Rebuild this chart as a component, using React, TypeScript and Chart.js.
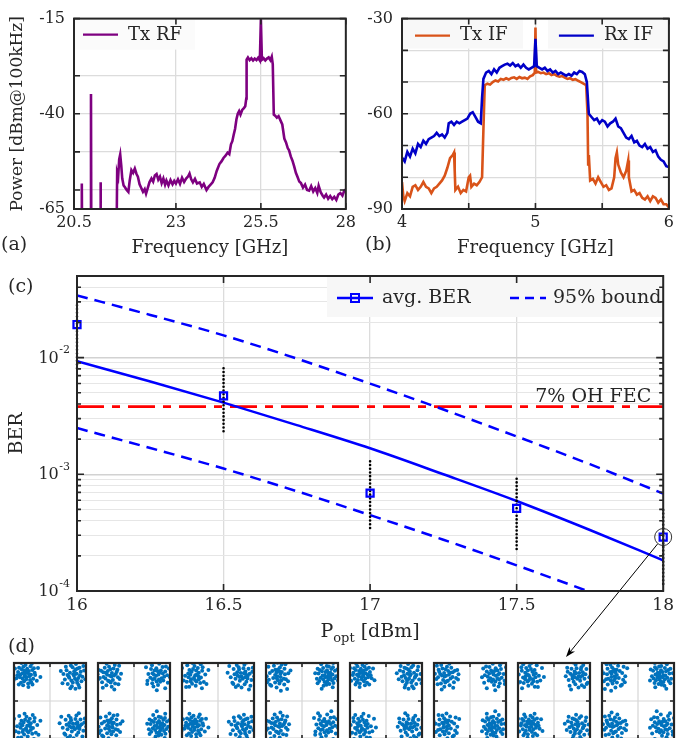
import React, { useEffect, useRef } from "react";
import { Chart, registerables } from "chart.js";
Chart.register(...registerables);

const SERIF = '"DejaVu Serif", "Liberation Serif", serif';
const INK = "#262626";
const GRID = "#dcdcdc";
const PURPLE = "#7E0080";
const ORANGE = "#D95319";
const DARKBLUE = "#0000C8";
const BLUE = "#0000FF";
const RED = "#FF0000";
const DOTBLUE = "#0072BD";

Chart.defaults.font.family = SERIF;
Chart.defaults.color = INK;

// ---------------- (a) Tx RF spectrum ----------------
const rfFreq = [
  20.0, 20.22, 20.23, 20.24, 20.49, 20.5, 20.51, 20.77, 20.78, 20.79, 21.25, 21.27, 21.3, 21.33, 21.36, 21.39, 21.42,
  21.46, 21.5, 21.55, 21.6, 21.64, 21.69, 21.74, 21.79, 21.84, 21.88, 21.93, 21.98, 22.03, 22.08, 22.12, 22.17, 22.22,
  22.28, 22.33, 22.38, 22.43, 22.48, 22.53, 22.58, 22.63, 22.68, 22.72, 22.78, 22.84, 22.9, 22.95, 23.0, 23.06, 23.12,
  23.18, 23.24, 23.3, 23.36, 23.4, 23.45, 23.5, 23.56, 23.62, 23.7, 23.76, 23.82, 23.9, 23.96, 24.02, 24.08, 24.14,
  24.2, 24.28, 24.34, 24.4, 24.46, 24.52, 24.57, 24.62, 24.66, 24.7, 24.74, 24.78, 24.82, 24.86, 24.9, 24.95, 25.0,
  25.04, 25.07, 25.08, 25.12, 25.17, 25.22, 25.27, 25.32, 25.37, 25.42, 25.47, 25.5, 25.53, 25.58, 25.63, 25.68,
  25.73, 25.78, 25.82, 25.85, 25.88, 25.92, 25.97, 26.02, 26.08, 26.13, 26.19, 26.24, 26.29, 26.33, 26.38, 26.43,
  26.48, 26.53, 26.58, 26.63, 26.68, 26.74, 26.8, 26.86, 26.92, 26.98, 27.04, 27.1, 27.16, 27.2, 27.26, 27.32, 27.36,
  27.42, 27.48, 27.54, 27.6, 27.66, 27.72, 27.78, 27.84, 27.9, 27.95, 28.0,
];
const rfPower = [
  -75, -75, -58.3, -75, -75, -34.8, -75, -75, -58.0, -75, -75, -55.5, -56.5, -52.0, -50.7, -53.5, -57.0,
  -58.8, -59.3, -60.0, -60.5, -57.5, -54.8, -55.5, -54.4, -55.8, -56.5, -58.5, -59.5, -60.5, -59.8, -61.0, -59.5, -58.0,
  -57.0, -57.8, -56.2, -55.8, -57.3, -56.5, -58.2, -57.0, -58.6, -57.5, -58.8, -57.4, -58.5, -57.6, -58.3, -57.2, -58.4,
  -56.8, -57.9, -57.0, -56.4, -55.7, -57.2, -58.0, -57.1, -58.3, -58.0, -59.2, -58.4, -60.0, -59.2, -58.6, -58.0, -56.8,
  -55.0, -53.2, -52.5, -51.6, -51.0, -50.2, -50.6, -48.0, -47.2, -45.5, -44.0, -41.5, -40.0, -39.3, -40.2, -39.0, -38.5,
  -38.0, -36.0, -25.8, -25.2, -25.9, -25.4, -26.0, -25.5, -25.9, -25.3, -26.0, -15.2, -25.8, -25.4, -26.0, -25.5,
  -25.2, -25.9, -25.0, -27.0, -40.2, -40.5, -41.0, -40.6, -41.8, -42.8, -46.5, -47.5, -49.0, -49.6, -51.2, -52.3,
  -53.8, -55.5, -56.6, -57.8, -58.2, -59.4, -58.6, -60.0, -60.2, -59.0, -60.4, -59.5, -60.8, -58.9, -60.6, -61.5, -62.0,
  -61.2, -62.3, -61.6, -62.4, -61.8, -62.6, -61.2, -60.8, -61.5, -60.3, -59.9,
];
const aXTicks = [20, 23, 25.5, 28];
const aXLabels = ["20.5", "23", "25.5", "28"];
const aYTicks = [-65, -60, -50, -40, -30, -15];
const aYLabels = ["-65", "", "", "-40", "", "-15"];

// ---------------- (b) IF spectra ----------------
const rxIfFreq = [
  4.0, 4.02, 4.04, 4.06, 4.08, 4.1, 4.12, 4.14, 4.16, 4.18, 4.2, 4.22, 4.24, 4.26, 4.28, 4.3, 4.32, 4.34, 4.35, 4.37,
  4.39, 4.41, 4.43, 4.45, 4.47, 4.49, 4.51, 4.53, 4.55, 4.57, 4.59, 4.6, 4.61, 4.63, 4.65, 4.67, 4.69, 4.71, 4.73, 4.75,
  4.77, 4.79, 4.81, 4.83, 4.85, 4.87, 4.89, 4.91, 4.93, 4.95, 4.97, 4.99, 5.0, 5.01, 5.03, 5.05, 5.07, 5.09, 5.11, 5.13,
  5.15, 5.17, 5.19, 5.21, 5.23, 5.25, 5.27, 5.29, 5.31, 5.33, 5.35, 5.37, 5.385, 5.4, 5.42, 5.44, 5.46, 5.48, 5.5, 5.52,
  5.54, 5.56, 5.58, 5.6, 5.62, 5.64, 5.66, 5.68, 5.7, 5.72, 5.74, 5.76, 5.78, 5.8, 5.82, 5.84, 5.86, 5.88, 5.9, 5.92,
  5.94, 5.96, 5.98, 6.0,
];
const rxIfPower = [
  -73.8, -75, -72, -73.5, -71, -72.5, -69.5, -70.5, -68.5, -69.5, -68, -67.5, -67, -66, -67, -66.5, -67.5, -66, -63, -62.5,
  -63.5, -62.5, -63, -62.5, -62, -61.5, -60, -59.5, -61, -62.5, -63, -55, -49, -47, -46.5, -47.5, -46, -47, -45.5, -45,
  -44.5, -44.2, -44.8, -44, -45, -44.5, -45.5, -44.5, -45.5, -46, -45.5, -45, -36.4, -45, -45.5, -46, -45.5, -46.5, -46, -47,
  -46.5, -47.5, -47, -47.5, -48, -47.5, -48, -47, -47.5, -46.5, -46.8, -47.5, -50, -60, -61, -62, -61.5, -63, -62, -62.5,
  -64, -63, -62.5, -61.5, -64, -64.5, -66, -67.5, -68, -67, -69, -68.5, -70, -70.5, -69.5, -71, -70.5, -72, -71.5, -73.5,
  -74.5, -75, -76.5, -76.8,
];
const txIfFreq = [
  4.0, 4.01, 4.02, 4.04, 4.06, 4.08, 4.1, 4.12, 4.14, 4.16, 4.18, 4.2, 4.22, 4.24, 4.26, 4.28, 4.3, 4.32, 4.34, 4.36,
  4.38, 4.39, 4.395, 4.4, 4.42, 4.44, 4.46, 4.48, 4.5, 4.51, 4.52, 4.54, 4.56, 4.58, 4.6, 4.61, 4.62, 4.64, 4.66, 4.68,
  4.7, 4.72, 4.74, 4.76, 4.78, 4.8, 4.82, 4.84, 4.86, 4.88, 4.9, 4.92, 4.94, 4.96, 4.98, 4.995, 5.0, 5.005, 5.02, 5.04,
  5.06, 5.08, 5.1, 5.12, 5.14, 5.16, 5.18, 5.2, 5.22, 5.24, 5.26, 5.28, 5.3, 5.32, 5.34, 5.36, 5.38, 5.39, 5.395, 5.4,
  5.41, 5.43, 5.45, 5.47, 5.49, 5.51, 5.53, 5.55, 5.57, 5.59, 5.6, 5.61, 5.62, 5.64, 5.66, 5.68, 5.695, 5.7, 5.72, 5.74,
  5.76, 5.78, 5.8, 5.82, 5.84, 5.86, 5.88, 5.9, 5.92, 5.94, 5.96, 5.98, 6.0,
];
const txIfPower = [
  -81.5, -86, -87.5, -85, -86, -83, -82.5, -84, -83, -81.5, -83, -83.5, -85, -83.5, -83, -82, -81, -79.5, -77, -74,
  -73, -72.2, -78, -84, -83, -85, -84, -84.5, -80, -79.5, -83, -82, -82.5, -81.5, -80, -65, -51, -50.5, -50.8, -50,
  -49.5, -49.8, -49, -49.3, -48.8, -49.2, -48.7, -48.5, -49, -48.4, -48.8, -48.6, -49, -48.2, -47.8, -47, -32.8, -47, -46.8, -47.2,
  -47, -47.5, -47.2, -47.8, -47.5, -48, -48.3, -48.1, -48.6, -49, -48.8, -49.3, -49.1, -49.6, -50, -50.5, -51, -60, -76, -73,
  -81, -80.5, -82, -80, -81.5, -83, -82.5, -84, -83.5, -80, -74, -72.2, -76, -78.5, -80, -78, -74.7, -80, -84.5, -84,
  -85.5, -85, -86.5, -87, -86, -87.5, -86, -86.5, -88, -87, -88.5, -88.5, -89.5,
];
const bXTicks = [4, 4.5, 5, 5.5, 6];
const bXLabels = ["4", "", "5", "", "6"];
const bYTicks = [-90, -80, -70, -60, -50, -40, -30];
const bYLabels = ["-90", "", "", "-60", "", "", "-30"];

// ---------------- (c) BER vs optical power ----------------
const pOpt = [16, 16.5, 17, 17.5, 18];
const avgBer = [1.92e-2, 4.7e-3, 6.9e-4, 5.1e-4, 2.9e-4];
const berMax = [2.95e-2, 8.7e-3, 1.32e-3, 9.3e-4, 5.2e-4];
const berMin = [8.1e-3, 2.34e-3, 3.47e-4, 2.29e-4, 1.15e-4];
const fitP = [16, 16.25, 16.5, 16.75, 17, 17.25, 17.5, 17.75, 18];
const fitBer = [9.3e-3, 6.24e-3, 4.11e-3, 2.64e-3, 1.67e-3, 1.0e-3, 5.9e-4, 3.33e-4, 1.83e-4];
const upperBer = [3.41e-2, 2.32e-2, 1.55e-2, 9.8e-3, 5.98e-3, 3.59e-3, 2.11e-3, 1.22e-3, 6.84e-4];
const lowerBer = [2.49e-3, 1.68e-3, 1.12e-3, 7.16e-4, 4.47e-4, 2.75e-4, 1.66e-4, 9.8e-5, 5.6e-5];
const fecBer = 3.8e-3;
const cXTicks = [16, 16.5, 17, 17.5, 18];
const cXLabels = ["16", "16.5", "17", "17.5", "18"];
const cYDecades = [1e-4, 1e-3, 1e-2];
const cYExponents = ["-4", "-3", "-2"];
const cYMinor = [
  2e-4, 3e-4, 4e-4, 5e-4, 6e-4, 7e-4, 8e-4, 9e-4, 2e-3, 3e-3, 4e-3, 5e-3, 6e-3, 7e-3, 8e-3, 9e-3, 2e-2, 3e-2, 4e-2,
];

// ---------------- (d) constellations (cluster offsets) ----------------
const clusterA = [
  [0.02, -0.05], [-0.15, 0.1], [0.21, 0.04], [-0.08, -0.22], [0.12, 0.18], [-0.25, -0.06], [0.05, 0.27], [0.3, -0.12],
  [-0.18, 0.25], [0.09, -0.31], [-0.33, 0.14], [0.17, -0.17], [-0.04, 0.08], [0.26, 0.22], [-0.21, -0.28], [0.38, 0.03],
  [-0.11, 0.35], [0.14, -0.02], [-0.29, 0.31], [0.01, -0.14], [0.22, -0.26], [-0.07, 0.19], [-0.4, -0.1], [0.33, 0.29],
  [-0.14, -0.12], [0.07, 0.11], [0.19, 0.37], [-0.36, 0.02], [0.27, -0.35], [-0.02, 0.42], [0.45, -0.2], [-0.23, 0.05],
  [0.1, -0.45], [-0.46, 0.28], [0.04, 0.2], [-0.12, -0.38], [0.36, 0.12], [-0.3, -0.35], [0.16, 0.05], [-0.06, -0.02],
  [0.5, 0.3], [-0.52, -0.18], [0.24, 0.47], [-0.19, 0.5], [0.6, -0.05],
];
const clusterB = [
  [-0.03, 0.06], [0.18, -0.09], [-0.22, -0.03], [0.07, 0.24], [-0.11, -0.19], [0.28, 0.15], [-0.31, 0.21], [0.13, -0.28],
  [-0.06, 0.33], [0.35, -0.04], [-0.17, 0.12], [0.04, -0.12], [0.23, 0.31], [-0.38, -0.15], [0.11, 0.08], [-0.26, -0.33],
  [0.42, 0.2], [-0.09, -0.42], [0.19, -0.37], [-0.44, 0.07], [0.31, -0.22], [-0.13, 0.4], [0.08, 0.46], [-0.34, 0.35],
  [0.47, -0.14], [-0.2, -0.08], [0.01, 0.17], [0.25, 0.02], [-0.05, -0.27], [0.15, 0.28], [-0.48, -0.3], [0.39, 0.38],
  [-0.27, 0.03], [0.06, -0.52], [0.55, 0.1], [-0.15, -0.5], [0.22, -0.47], [-0.55, 0.18], [0.0, 0.0], [0.12, -0.18],
];
const clusterC = [
  [0.05, 0.02], [-0.12, -0.14], [0.2, 0.12], [-0.24, 0.09], [0.1, -0.23], [-0.04, 0.26], [0.29, -0.07], [-0.3, -0.24],
  [0.16, 0.3], [-0.19, 0.22], [0.34, 0.19], [-0.08, -0.32], [0.26, -0.29], [-0.37, 0.0], [0.02, 0.38], [-0.15, 0.04],
  [0.12, 0.05], [0.41, -0.25], [-0.28, 0.41], [0.2, -0.14], [-0.43, -0.19], [0.07, -0.4], [0.36, 0.33], [-0.1, 0.15],
  [-0.2, -0.44], [0.47, 0.05], [-0.5, 0.3], [0.28, 0.45], [0.0, -0.08], [-0.06, 0.5], [0.52, -0.33], [-0.33, -0.45],
  [0.18, -0.02], [-0.23, -0.06], [0.09, 0.2], [0.6, 0.22], [-0.58, -0.05], [0.33, -0.5], [-0.14, -0.22], [0.04, -0.17],
];
const clusterD = [
  [-0.02, -0.03], [0.14, 0.16], [-0.2, 0.13], [0.23, -0.11], [-0.09, -0.2], [0.06, 0.29], [-0.27, -0.12], [0.32, 0.08],
  [-0.14, 0.33], [0.11, -0.34], [-0.35, 0.26], [0.27, 0.27], [-0.05, 0.11], [0.18, -0.24], [-0.4, -0.28], [0.39, -0.17],
  [0.03, -0.12], [-0.22, 0.42], [0.1, 0.43], [-0.31, 0.06], [0.45, 0.31], [-0.16, -0.38], [0.24, 0.0], [-0.47, -0.06],
  [0.35, -0.4], [-0.1, -0.05], [0.16, 0.07], [-0.26, -0.45], [0.51, -0.02], [-0.02, -0.47], [-0.53, 0.38], [0.2, 0.52],
  [0.08, 0.1], [-0.12, 0.24], [0.43, 0.15], [-0.36, -0.33], [0.29, -0.55], [-0.6, 0.12], [0.13, -0.06], [-0.18, 0.0],
];
const clusterSets = [clusterA, clusterB, clusterC, clusterD];
const symbolI = [-1, 1, -1, 1];
const symbolQ = [1, 1, -1, -1];
const panelCount = 8;

// layout of the constellation strip
const D_LEFT = 10;
const D_STEP = 84;
const D_TOP = 659;
const D_W = 80;
const D_H = 84;

const pts = (xs: number[], ys: number[]) => xs.map((x, i) => ({ x, y: ys[i] }));

function panelPoints(p: number) {
  const out: { x: number; y: number }[] = [];
  for (let q = 0; q < 4; q++) {
    const set = clusterSets[(p + q) % 4];
    const swap = p % 2 === 1;
    const flip = p >= 4 ? -1 : 1;
    for (const [dx, dy] of set) {
      const ox = swap ? dy : dx;
      const oy = swap ? dx : dy;
      out.push({ x: symbolI[q] + flip * ox, y: symbolQ[q] + oy });
    }
  }
  return out;
}

// ---------------- helpers ----------------
function drawText(ctx: any, s: string, x: number, y: number, size: number, align = "left", baseline = "middle", rot = 0) {
  ctx.save();
  ctx.translate(x, y);
  if (rot) ctx.rotate(rot);
  ctx.font = `${size}px ${SERIF}`;
  ctx.fillStyle = INK;
  ctx.textAlign = align;
  ctx.textBaseline = baseline;
  ctx.fillText(s, 0, 0);
  ctx.restore();
}

function framePlugin(xTicks: number[], yTicks: number[], yMinor: number[] = [], len = 6, lw = 2) {
  return {
    id: "frame",
    afterDraw(chart: any) {
      const { ctx, chartArea: a } = chart;
      const x = chart.scales.x;
      const y = chart.scales.y;
      ctx.save();
      ctx.strokeStyle = INK;
      ctx.lineWidth = 1.6;
      ctx.beginPath();
      xTicks.forEach((v) => {
        const p = x.getPixelForValue(v);
        ctx.moveTo(p, a.bottom);
        ctx.lineTo(p, a.bottom - len);
        ctx.moveTo(p, a.top);
        ctx.lineTo(p, a.top + len);
      });
      yTicks.forEach((v) => {
        const p = y.getPixelForValue(v);
        ctx.moveTo(a.left, p);
        ctx.lineTo(a.left + len, p);
        ctx.moveTo(a.right, p);
        ctx.lineTo(a.right - len, p);
      });
      const ml = Math.round(len * 0.6);
      yMinor.forEach((v) => {
        const p = y.getPixelForValue(v);
        ctx.moveTo(a.left, p);
        ctx.lineTo(a.left + ml, p);
        ctx.moveTo(a.right, p);
        ctx.lineTo(a.right - ml, p);
      });
      ctx.stroke();
      ctx.lineWidth = lw;
      ctx.strokeRect(a.left, a.top, a.right - a.left, a.bottom - a.top);
      ctx.restore();
    },
  };
}

function linX(min: number, max: number, ticks: number[], labels: string[], size: number, h: number) {
  return {
    type: "linear",
    min,
    max,
    afterBuildTicks: (s: any) => {
      s.ticks = ticks.map((v) => ({ value: v }));
    },
    afterFit: (s: any) => {
      s.height = h;
    },
    ticks: {
      callback: (_v: any, i: number) => labels[i],
      font: { size, family: SERIF },
      color: INK,
      padding: 4,
      maxRotation: 0,
      autoSkip: false,
    },
    grid: { color: GRID, lineWidth: 1.3, drawTicks: false },
    border: { display: false },
  };
}

function linY(min: number, max: number, ticks: number[], labels: string[], size: number, w: number, pad: number) {
  return {
    type: "linear",
    min,
    max,
    afterBuildTicks: (s: any) => {
      s.ticks = ticks.map((v) => ({ value: v }));
    },
    afterFit: (s: any) => {
      s.width = w;
    },
    ticks: {
      callback: (_v: any, i: number) => labels[i],
      font: { size, family: SERIF },
      color: INK,
      padding: pad,
      autoSkip: false,
    },
    grid: { color: GRID, lineWidth: 1.3, drawTicks: false },
    border: { display: false },
  };
}

const baseOpts = {
  responsive: false,
  maintainAspectRatio: false,
  animation: false,
  events: [],
  plugins: { legend: { display: false }, tooltip: { enabled: false } },
};

function legendBox(ctx: any, x: number, y: number, w: number, h: number, fill: string) {
  ctx.save();
  ctx.fillStyle = fill;
  ctx.fillRect(x, y, w, h);
  ctx.restore();
}

function legendLine(ctx: any, x1: number, x2: number, y: number, color: string, lw: number, dash: number[] = []) {
  ctx.save();
  ctx.strokeStyle = color;
  ctx.lineWidth = lw;
  ctx.setLineDash(dash);
  ctx.beginPath();
  ctx.moveTo(x1, y);
  ctx.lineTo(x2, y);
  ctx.stroke();
  ctx.restore();
}

// ---------------- chart configs ----------------
function makeA(): any {
  return {
    type: "line",
    data: {
      datasets: [
        {
          data: pts(rfFreq, rfPower),
          borderColor: PURPLE,
          borderWidth: 2.6,
          pointRadius: 0,
          tension: 0,
          clip: 0,
        },
      ],
    },
    options: {
      ...baseOpts,
      layout: { padding: { left: 0, right: 13, top: 17, bottom: 0 } },
      scales: {
        x: linX(20, 28, aXTicks, aXLabels, 16, 51),
        y: linY(-65, -15, aYTicks, aYLabels, 16, 74, 9),
      },
    },
    plugins: [
      {
        id: "legendA",
        afterDatasetsDraw(chart: any) {
          const { ctx, chartArea: a } = chart;
          legendBox(ctx, a.left + 1, a.top + 1, 120, 30, "#fbfbfb");
          legendLine(ctx, a.left + 9, a.left + 44, a.top + 16, PURPLE, 2.4);
          drawText(ctx, "Tx RF", a.left + 54, a.top + 17, 18);
        },
        afterDraw(chart: any) {
          const { ctx, chartArea: a } = chart;
          drawText(ctx, "Frequency [GHz]", (a.left + a.right) / 2, a.bottom + 39, 18, "center");
          drawText(ctx, "Power [dBm@100kHz]", 18, (a.top + a.bottom) / 2, 17, "center", "middle", -Math.PI / 2);
        },
      },
      framePlugin(aXTicks, aYTicks, [], 6, 2),
    ],
  };
}

function makeB(): any {
  return {
    type: "line",
    data: {
      datasets: [
        {
          data: pts(rxIfFreq, rxIfPower),
          borderColor: DARKBLUE,
          borderWidth: 2.6,
          pointRadius: 0,
          tension: 0,
          clip: 0,
        },
        {
          data: pts(txIfFreq, txIfPower),
          borderColor: ORANGE,
          borderWidth: 2.6,
          pointRadius: 0,
          tension: 0,
          clip: 0,
        },
      ],
    },
    options: {
      ...baseOpts,
      layout: { padding: { left: 0, right: 5, top: 16, bottom: 0 } },
      scales: {
        x: linX(4, 6, bXTicks, bXLabels, 16, 51),
        y: linY(-90, -30, bYTicks, bYLabels, 16, 62, 9),
      },
    },
    plugins: [
      {
        id: "legendB",
        afterDatasetsDraw(chart: any) {
          const { ctx, chartArea: a } = chart;
          legendBox(ctx, a.left + 1, a.top + 1, 120, 29, "#f8f8f8");
          legendBox(ctx, a.right - 121, a.top + 1, 120, 29, "#f8f8f8");
          legendLine(ctx, a.left + 13, a.left + 48, a.top + 17, ORANGE, 2.4);
          drawText(ctx, "Tx IF", a.left + 58, a.top + 17, 18);
          legendLine(ctx, a.right - 110, a.right - 75, a.top + 17, DARKBLUE, 2.4);
          drawText(ctx, "Rx IF", a.right - 65, a.top + 17, 18);
        },
        afterDraw(chart: any) {
          const { ctx, chartArea: a } = chart;
          drawText(ctx, "Frequency [GHz]", (a.left + a.right) / 2, a.bottom + 39, 18, "center");
        },
      },
      framePlugin(bXTicks, bYTicks, [], 6, 2),
    ],
  };
}

function makeC(): any {
  const rangeSets = pOpt.map((p, i) => ({
    data: [
      { x: p, y: berMin[i] },
      { x: p, y: berMax[i] },
    ],
    borderColor: "#000000",
    borderWidth: 2.6,
    borderDash: [0, 3.7],
    borderCapStyle: "round",
    pointRadius: 0,
    clip: false,
  }));
  const allTicks = [...cYDecades, ...cYMinor].sort((a, b) => a - b);
  const isMajor = (v: number) => Math.abs(Math.log10(v) - Math.round(Math.log10(v))) < 1e-6;
  return {
    type: "line",
    data: {
      datasets: [
        {
          data: pts(pOpt, avgBer),
          showLine: false,
          pointStyle: "rect",
          pointRadius: 5,
          pointBorderWidth: 2.2,
          pointBorderColor: BLUE,
          pointBackgroundColor: "rgba(0,0,0,0)",
          clip: false,
        },
        ...rangeSets,
        {
          data: pts(fitP, fitBer),
          borderColor: BLUE,
          borderWidth: 2.5,
          pointRadius: 0,
          cubicInterpolationMode: "monotone",
        },
        {
          data: pts(fitP, upperBer),
          borderColor: BLUE,
          borderWidth: 2.5,
          borderDash: [11, 7],
          pointRadius: 0,
          cubicInterpolationMode: "monotone",
        },
        {
          data: pts(fitP, lowerBer),
          borderColor: BLUE,
          borderWidth: 2.5,
          borderDash: [11, 7],
          pointRadius: 0,
          cubicInterpolationMode: "monotone",
        },
        {
          data: [
            { x: cXTicks[0], y: fecBer },
            { x: cXTicks[cXTicks.length - 1], y: fecBer },
          ],
          borderColor: RED,
          borderWidth: 2.8,
          borderDash: [27, 8, 8, 8],
          pointRadius: 0,
        },
      ],
    },
    options: {
      ...baseOpts,
      layout: { padding: { left: 0, right: 8, top: 16, bottom: 0 } },
      scales: {
        x: linX(16, 18, cXTicks, cXLabels, 17, 69),
        y: {
          type: "logarithmic",
          min: 1e-4,
          max: 5e-2,
          afterBuildTicks: (s: any) => {
            s.ticks = allTicks.map((v) => ({ value: v }));
          },
          afterFit: (s: any) => {
            s.width = 77;
          },
          ticks: { display: false },
          grid: {
            drawTicks: false,
            color: (c: any) => (c.tick && isMajor(c.tick.value) ? "#d2d2d2" : "#e6e6e6"),
            lineWidth: (c: any) => (c.tick && isMajor(c.tick.value) ? 1.5 : 1.1),
          },
          border: { display: false },
        },
      },
    },
    plugins: [
      {
        id: "decorC",
        afterDatasetsDraw(chart: any) {
          const { ctx, chartArea: a } = chart;
          const y = chart.scales.y;
          // FEC label
          const fy = y.getPixelForValue(fecBer);
          drawText(ctx, "7% OH FEC", a.right - 12, fy - 5, 19, "right", "alphabetic");
          // legend
          const lx = a.left + 250;
          legendBox(ctx, lx, a.top + 1, a.right - lx - 1, 40, "#f7f7f7");
          const ly = a.top + 22;
          legendLine(ctx, lx + 10, lx + 46, ly, BLUE, 2.4);
          ctx.save();
          ctx.strokeStyle = BLUE;
          ctx.lineWidth = 2;
          ctx.strokeRect(lx + 24, ly - 4, 8, 8);
          ctx.restore();
          drawText(ctx, "avg. BER", lx + 55, ly, 19);
          legendLine(ctx, lx + 183, lx + 219, ly, BLUE, 2.4, [9, 6]);
          drawText(ctx, "95% bound", lx + 226, ly, 19);
        },
        afterDraw(chart: any) {
          const { ctx, chartArea: a } = chart;
          const x = chart.scales.x;
          const y = chart.scales.y;
          // y tick labels 10^k
          cYDecades.forEach((d, k) => {
            const py = y.getPixelForValue(d);
            ctx.font = `11px ${SERIF}`;
            const sw = ctx.measureText(cYExponents[k]).width;
            const right = a.left - 7;
            drawText(ctx, cYExponents[k], right, py - 7, 11, "right");
            drawText(ctx, "10", right - sw - 0.5, py + 1, 16, "right");
          });
          // axis titles
          drawText(ctx, "BER", 17, (a.top + a.bottom) / 2, 19, "center", "middle", -Math.PI / 2);
          ctx.save();
          ctx.font = `19px ${SERIF}`;
          const wP = ctx.measureText("P").width;
          const wU = ctx.measureText(" [dBm]").width;
          ctx.font = `13px ${SERIF}`;
          const wS = ctx.measureText("opt").width;
          ctx.restore();
          const tw = wP + wS + wU;
          const sx = (a.left + a.right) / 2 - tw / 2;
          const by = a.bottom + 46;
          drawText(ctx, "P", sx, by, 19, "left", "alphabetic");
          drawText(ctx, "opt", sx + wP, by + 5, 13, "left", "alphabetic");
          drawText(ctx, " [dBm]", sx + wP + wS, by, 19, "left", "alphabetic");
          // highlight circle and arrow to constellation
          const last = pOpt.length - 1;
          const cx = x.getPixelForValue(pOpt[last]);
          const cy = y.getPixelForValue(avgBer[last]);
          const tipX = D_LEFT + 6 * D_STEP + 52;
          const tipY = D_TOP - 2 - chart.canvas.offsetTop;
          ctx.save();
          ctx.strokeStyle = "#333333";
          ctx.lineWidth = 1;
          ctx.beginPath();
          ctx.arc(cx, cy, 8.5, 0, Math.PI * 2);
          ctx.stroke();
          const dx = tipX - cx;
          const dy = tipY - cy;
          const L = Math.hypot(dx, dy);
          const ux = dx / L;
          const uy = dy / L;
          ctx.strokeStyle = "#000000";
          ctx.beginPath();
          ctx.moveTo(cx + ux * 9, cy + uy * 9);
          ctx.lineTo(tipX - ux * 6, tipY - uy * 6);
          ctx.stroke();
          ctx.fillStyle = "#000000";
          ctx.beginPath();
          ctx.moveTo(tipX, tipY);
          ctx.lineTo(tipX - ux * 10 - uy * 3.5, tipY - uy * 10 + ux * 3.5);
          ctx.lineTo(tipX - ux * 7, tipY - uy * 7);
          ctx.lineTo(tipX - ux * 10 + uy * 3.5, tipY - uy * 10 - ux * 3.5);
          ctx.closePath();
          ctx.fill();
          ctx.restore();
        },
      },
      framePlugin([16.5, 17, 17.5], cYDecades, cYMinor, 7, 2),
    ],
  };
}

function makeD(p: number): any {
  return {
    type: "scatter",
    data: {
      datasets: [
        {
          data: panelPoints(p),
          pointRadius: 2,
          pointBorderWidth: 0,
          pointBackgroundColor: DOTBLUE,
        },
      ],
    },
    options: {
      ...baseOpts,
      layout: { padding: { left: 1, right: 1, top: 1, bottom: 3 } },
      scales: {
        x: { type: "linear", min: -1.5, max: 1.5, display: false },
        y: { type: "linear", min: -1.5, max: 1.5, display: false },
      },
    },
    plugins: [
      {
        id: "cross",
        beforeDatasetsDraw(chart: any) {
          const { ctx, chartArea: a } = chart;
          const px = chart.scales.x.getPixelForValue(0);
          const py = chart.scales.y.getPixelForValue(0);
          ctx.save();
          ctx.strokeStyle = "#d6d6d6";
          ctx.lineWidth = 1.2;
          ctx.beginPath();
          ctx.moveTo(px, a.top);
          ctx.lineTo(px, a.bottom);
          ctx.moveTo(a.left, py);
          ctx.lineTo(a.right, py);
          ctx.stroke();
          ctx.restore();
        },
      },
      framePlugin([0], [0], [], 4, 2.2),
    ],
  };
}

function ChartBox({ left, top, width, height, make }: any) {
  const ref = useRef<HTMLCanvasElement>(null);
  useEffect(() => {
    const chart = new Chart(ref.current as HTMLCanvasElement, make());
    return () => chart.destroy();
  }, []);
  return (
    <canvas
      ref={ref}
      width={width}
      height={height}
      style={{ position: "absolute", left, top, width, height }}
    />
  );
}

function PanelLabel({ text, left, cy }: { text: string; left: number; cy: number }) {
  return (
    <div
      style={{
        position: "absolute",
        left,
        top: cy - 13,
        height: 26,
        lineHeight: "26px",
        fontSize: 19,
        fontFamily: SERIF,
        color: INK,
        whiteSpace: "nowrap",
      }}
    >
      {text}
    </div>
  );
}

export default function App() {
  const panels = Array.from({ length: panelCount }, (_, i) => i);
  return (
    <div
      style={{
        position: "absolute",
        left: 0,
        top: 0,
        width: 678,
        height: 738,
        overflow: "hidden",
        background: "#ffffff",
      }}
    >
      <ChartBox left={0} top={0} width={360} height={260} make={makeA} />
      <ChartBox left={340} top={0} width={338} height={260} make={makeB} />
      <ChartBox left={0} top={260} width={678} height={400} make={makeC} />
      {panels.map((i) => (
        <ChartBox key={i} left={D_LEFT + i * D_STEP} top={D_TOP} width={D_W} height={D_H} make={() => makeD(i)} />
      ))}
      <PanelLabel text="(a)" left={1} cy={243} />
      <PanelLabel text="(b)" left={365} cy={243} />
      <PanelLabel text="(c)" left={8} cy={285} />
      <PanelLabel text="(d)" left={8} cy={645} />
    </div>
  );
}
